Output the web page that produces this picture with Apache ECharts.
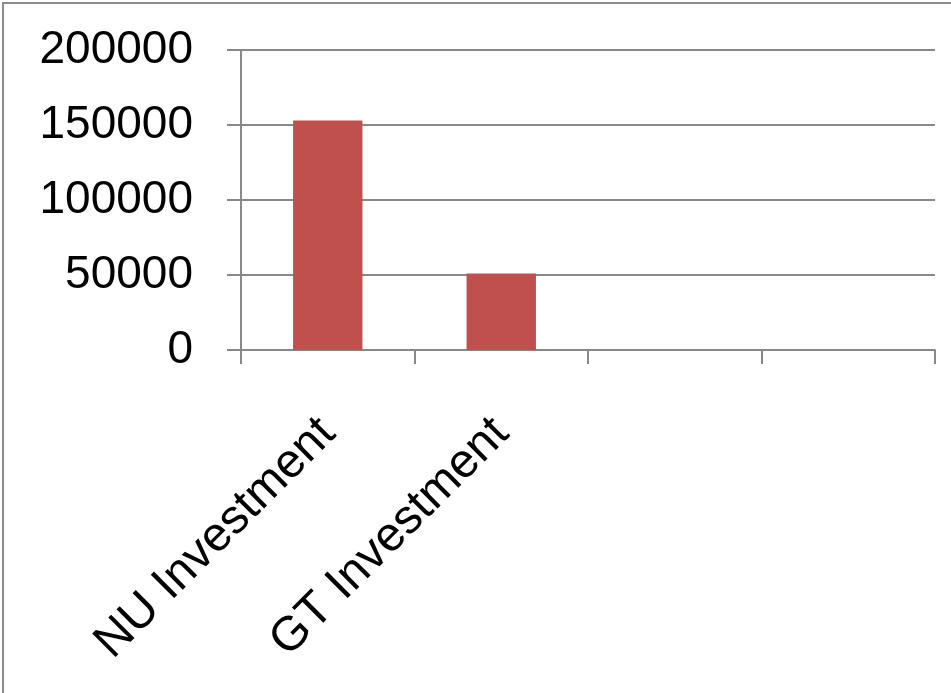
<!DOCTYPE html>
<html>
<head>
<meta charset="utf-8">
<script src="https://cdn.jsdelivr.net/npm/echarts@6/dist/echarts.min.js"></script>
<style>
html,body{margin:0;padding:0;background:#fff;}
#chart{width:951px;height:693px;}
</style>
</head>
<body>
<div id="chart"></div>
<script>
const categories = ['NU Investment', 'GT Investment', '', ''];
const investmentValues = [153000, 51000, null, null];
const yTicks = [0, 50000, 100000, 150000, 200000];

const chart = echarts.init(document.getElementById('chart'), null, {renderer: 'canvas'});
const FONT = 'Liberation Sans';
chart.setOption({
  animation: false,
  backgroundColor: '#ffffff',
  graphic: [{
    type: 'rect',
    shape: {x: 3, y: 3, width: 1000, height: 800},
    style: {fill: 'none', stroke: '#8c8c8c', lineWidth: 2},
    silent: true
  }],
  grid: {left: 241, right: 16, top: 50, bottom: 343, containLabel: false},
  xAxis: {
    type: 'category',
    data: categories,
    boundaryGap: true,
    axisLine: {show: true, lineStyle: {color: '#888888', width: 2}},
    axisTick: {show: true, length: 14, alignWithLabel: false, interval: 0, lineStyle: {color: '#888888', width: 2}},
    axisLabel: {
      interval: 0, rotate: 45, margin: 76,
      color: '#000', fontFamily: FONT, fontSize: 48
    },
    splitLine: {show: false}
  },
  yAxis: {
    type: 'value',
    min: yTicks[0],
    max: yTicks[yTicks.length - 1],
    interval: yTicks[1] - yTicks[0],
    axisLine: {show: true, lineStyle: {color: '#888888', width: 2}},
    axisTick: {show: true, length: 14, lineStyle: {color: '#888888', width: 2}},
    axisLabel: {margin: 48, color: '#000', fontFamily: FONT, fontSize: 46, formatter: v => String(v)},
    splitLine: {show: true, lineStyle: {color: '#888888', width: 2}}
  },
  series: [{
    type: 'bar',
    data: investmentValues,
    barWidth: '40%',
    barGap: '0%',
    itemStyle: {color: '#C0504D'}
  }]
});
</script>
</body>
</html>
